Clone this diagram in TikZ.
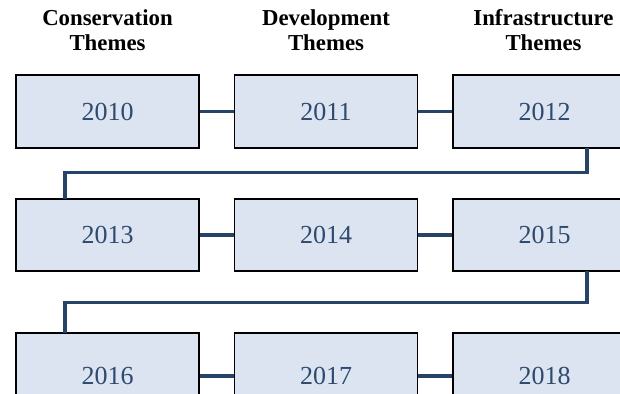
\documentclass[tikz,border=0pt]{standalone}
\usepackage{fontspec}
\setmainfont{Liberation Serif}
\definecolor{boxfill}{HTML}{DBE4F0}
\definecolor{linecol}{HTML}{264468}
\definecolor{txtcol}{HTML}{2E4A6E}
\tikzset{
  yearbox/.style={draw=black, line width=1.6pt, fill=boxfill, minimum width=183pt, inner sep=0pt,
    text=txtcol, font=\fontsize{26}{30}\selectfont},
  row1/.style={minimum height=73pt},
  row2/.style={minimum height=72pt},
  row3/.style={minimum height=86pt},
  hdr/.style={font=\bfseries\fontsize{22.8}{24.5}\selectfont, text=black, inner sep=0pt, anchor=base},
  conn/.style={draw=linecol, line width=3.5pt},
}
\begin{document}
\begin{tikzpicture}[x=1pt,y=-1pt]
\useasboundingbox (0,0) rectangle (620,393);
\clip (0,0) rectangle (620,393);
% headers
\node[hdr] (h1a) at (107.5,25.7) {Conservation};
\node[hdr] (h1b) at (107.5,50.2) {Themes};
\node[hdr] (h2a) at (326,25.7) {Development};
\node[hdr] (h2b) at (326,50.2) {Themes};
\node[hdr] (h3a) at (543.5,25.7) {Infrastructure};
\node[hdr] (h3b) at (543.5,50.2) {Themes};
% connectors (drawn first, under boxes)
\path (107.5,111.5) coordinate (c10) (326,111.5) coordinate (c11) (544.5,111.5) coordinate (c12)
      (107.5,235) coordinate (c13) (326,235) coordinate (c14) (544.5,235) coordinate (c15)
      (107.5,376) coordinate (c16) (326,376) coordinate (c17) (544.5,376) coordinate (c18);
\draw[conn] (c10) -- (c11) -- (c12);
\draw[conn] (c13) -- (c14) -- (c15);
\draw[conn] (c16) -- (c17) -- (c18);
% boxes
\node[yearbox,row1] (b10) at (c10) {2010};
\node[yearbox,row1] (b11) at (c11) {2011};
\node[yearbox,row1] (b12) at (c12) {2012};
\node[yearbox,row2] (b13) at (c13) {2013};
\node[yearbox,row2] (b14) at (c14) {2014};
\node[yearbox,row2] (b15) at (c15) {2015};
\node[yearbox,row3] (b16) at (c16) {2016};
\node[yearbox,row3] (b17) at (c17) {2017};
\node[yearbox,row3] (b18) at (c18) {2018};
% row links
\draw[conn] ([xshift=42.5pt,yshift=0.8pt]b12.south) -- ++(0,24.5) -| ([xshift=-42.5pt,yshift=-0.8pt]b13.north);
\draw[conn] ([xshift=42.5pt,yshift=0.8pt]b15.south) -- ++(0,31.7) -| ([xshift=-42.5pt,yshift=-0.8pt]b16.north);
\end{tikzpicture}
\end{document}
